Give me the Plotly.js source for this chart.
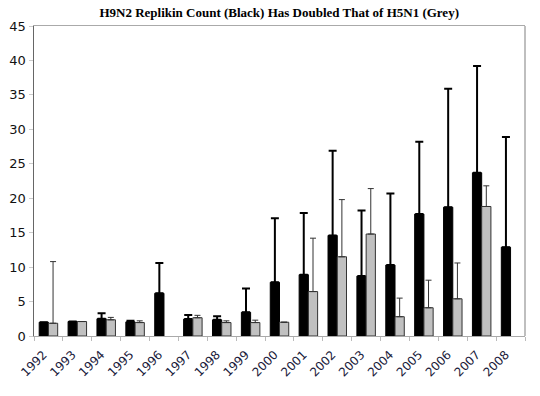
<!DOCTYPE html>
<html>
<head>
<meta charset="utf-8">
<script src="https://cdn.plot.ly/plotly-3.0.1.min.js"></script>
<style>html,body{margin:0;padding:0;background:#fff;}#chart{width:540px;height:396px;}</style>
</head>
<body>
<div id="chart"></div>
<script>
const years = ['1992','1993','1994','1995','1996','1997','1998','1999','2000','2001','2002','2003','2004','2005','2006','2007','2008'];
const h9n2 = [2.0, 2.1, 2.5, 2.05, 6.2, 2.45, 2.35, 3.45, 7.8, 8.9, 14.6, 8.7, 10.3, 17.7, 18.7, 23.7, 12.9];
const h9n2Err = [0, 0, 0.8, 0.15, 4.4, 0.6, 0.5, 3.45, 9.3, 8.95, 12.3, 9.5, 10.4, 10.5, 17.2, 15.5, 16.0];
const h5n1 = [1.85, 2.1, 2.35, 1.95, null, 2.65, 1.95, 1.95, 2.0, 6.45, 11.5, 14.8, 2.8, 4.1, 5.4, 18.8, null];
const h5n1Err = [8.95, 0, 0.35, 0.25, null, 0.35, 0.25, 0.35, 0, 7.75, 8.3, 6.6, 2.7, 4.0, 5.2, 3.0, null];
const yTicks = [0, 5, 10, 15, 20, 25, 30, 35, 40, 45];

const traces = [
  {
    type: 'bar', x: years, y: h9n2, name: 'H9N2',
    marker: {color: '#000', line: {color: '#000', width: 1}},
    error_y: {type: 'data', symmetric: false, array: h9n2Err, arrayminus: h9n2.map(() => 0),
              color: '#000', thickness: 2, width: 4}
  },
  {
    type: 'bar', x: years, y: h5n1, name: 'H5N1',
    marker: {color: '#c0c0c0', line: {color: '#333', width: 1}},
    error_y: {type: 'data', symmetric: false, array: h5n1Err, arrayminus: h5n1.map(() => 0),
              color: '#333', thickness: 1, width: 3}
  }
];

const layout = {
  width: 540, height: 396,
  margin: {l: 34, r: 15, t: 26, b: 60, pad: 0},
  paper_bgcolor: '#fff', plot_bgcolor: '#fff',
  showlegend: false,
  barmode: 'group', bargap: 0.36, bargroupgap: 0,
  title: {
    text: '<b>H9N2 Replikin Count (Black) Has Doubled That of H5N1 (Grey)</b>',
    font: {family: 'Liberation Serif, Times New Roman, serif', size: 13, color: '#000'},
    x: 0.517, xanchor: 'center', y: 0.968, yanchor: 'middle'
  },
  xaxis: {
    type: 'category', tickangle: -45,
    tickson: 'boundaries', ticks: 'outside', ticklen: 4, tickcolor: '#bbb',
    ticklabelstandoff: 6, ticklabelshift: -5,
    showline: true, linecolor: '#aaa', linewidth: 1, mirror: true,
    showgrid: false, zeroline: false,
    tickfont: {family: 'DejaVu Sans, Verdana, sans-serif', size: 12, color: '#1a1a3a'}
  },
  yaxis: {
    range: [0, 45], tickvals: yTicks, ticktext: yTicks.map(String),
    ticks: 'outside', ticklen: 4, tickcolor: '#ccc',
    showline: true, linecolor: '#666', linewidth: 1.5,
    showgrid: false, zeroline: false,
    tickfont: {family: 'DejaVu Sans, Verdana, sans-serif', size: 13, color: '#111'}
  },
  shapes: [
    {type: 'line', xref: 'paper', yref: 'paper', x0: 1, x1: 1, y0: 0, y1: 1,
     line: {color: '#aaa', width: 1.5}}
  ]
};

Plotly.newPlot('chart', traces, layout, {displayModeBar: false, staticPlot: true});
</script>
</body>
</html>
